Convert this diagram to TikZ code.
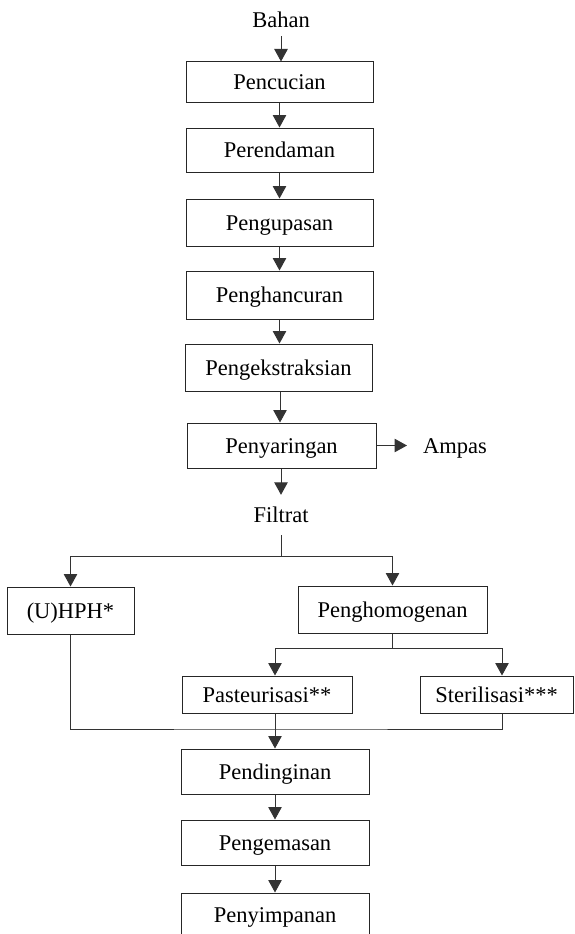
\documentclass[tikz,border=0pt]{standalone}
\usepackage{fontspec}
\setmainfont{Liberation Serif}
\usetikzlibrary{arrows.meta}
\begin{document}
\begin{tikzpicture}[x=1pt,y=-1pt,
  every node/.style={font=\fontsize{22.5}{27}\selectfont, text height=15pt, text depth=0pt},
  stepbox/.style={draw=black!85, line width=1pt, inner sep=0pt, minimum width=#1},
  stepbox/.default=187pt,
  lbl/.style={inner sep=0pt},
  conn/.style={draw=black!80, line width=1pt},
  arr/.style={conn, -{Triangle[length=12.5pt,width=13.5pt]}}]
\useasboundingbox (0,0) rectangle (574,934);
% labels
\node[lbl, minimum height=31pt] (bahan) at (281,20.5) {Bahan};
% main column
\node[stepbox, minimum height=40pt] (cuci) at (279.5,82) {Pencucian};
\node[stepbox, minimum height=44pt] (rendam) at (279.5,150) {Perendaman};
\node[stepbox, minimum height=47pt] (kupas) at (279.5,222.5) {Pengupasan};
\node[stepbox, minimum height=48pt] (hancur) at (279.5,295) {Penghancuran};
\node[stepbox, minimum height=47pt] (ekstrak) at (278.5,367.5) {Pengekstraksian};
\node[stepbox=189pt, minimum height=45pt] (saring) at (281.5,445.5) {Penyaringan};
\node[lbl, anchor=west, inner xsep=16pt] (ampas) at (407,445.5) {Ampas};
\node[lbl, minimum height=40pt] (filtrat) at (281,515) {Filtrat};
% branches
\node[stepbox=127pt, minimum height=47pt] (uhph) at (70.5,610.5) {(U)HPH*};
\node[stepbox=189pt, minimum height=47pt] (homog) at (392.5,609.5) {Penghomogenan};
\node[stepbox=170pt, minimum height=37pt] (past) at (267,694.5) {Pasteurisasi**};
\node[stepbox=153pt, minimum height=37pt] (steril) at (496.5,694.5) {Sterilisasi***};
% bottom column
\node[stepbox=188pt, minimum height=45pt] (dingin) at (275,771.5) {Pendinginan};
\node[stepbox=188pt, minimum height=45pt] (kemas) at (275,842.5) {Pengemasan};
\node[stepbox=188pt, minimum height=44pt] (simpan) at (275,915) {Penyimpanan};
% junctions
\coordinate (s1) at (281,556);
\coordinate (s2) at (392.5,648);
\coordinate (m) at (275,729);
% connectors
\draw[arr] (bahan.south) -- (bahan.south |- cuci.north);
\draw[arr] (cuci.south) -- (cuci.south |- rendam.north);
\draw[arr] (rendam.south) -- (rendam.south |- kupas.north);
\draw[arr] (kupas.south) -- (kupas.south |- hancur.north);
\draw[arr] (hancur.south) -- (hancur.south |- ekstrak.north);
\draw[arr] ([xshift=1.5pt]ekstrak.south) -- ([xshift=1.5pt]ekstrak.south |- saring.north);
\draw[arr] (saring.east) -- (ampas.west);
\draw[arr] (filtrat.north |- saring.south) -- (filtrat.north);
\draw[conn] (filtrat.south) -- (s1);
\draw[arr] (s1) -| (uhph.north);
\draw[arr] (s1) -| (homog.north);
\draw[conn] (homog.south) -- (s2);
\draw[arr] (s2) -| (dingin.north |- past.north);
\draw[arr] (s2) -| ([xshift=5.5pt]steril.north);
\draw[conn] (uhph.south) |- (m) -| ([xshift=5.5pt]steril.south);
\draw[arr] (dingin.north |- past.south) -- (dingin.north);
\draw[arr] (dingin.south) -- (kemas.north);
\draw[arr] (kemas.south) -- (simpan.north);
\end{tikzpicture}
\end{document}
